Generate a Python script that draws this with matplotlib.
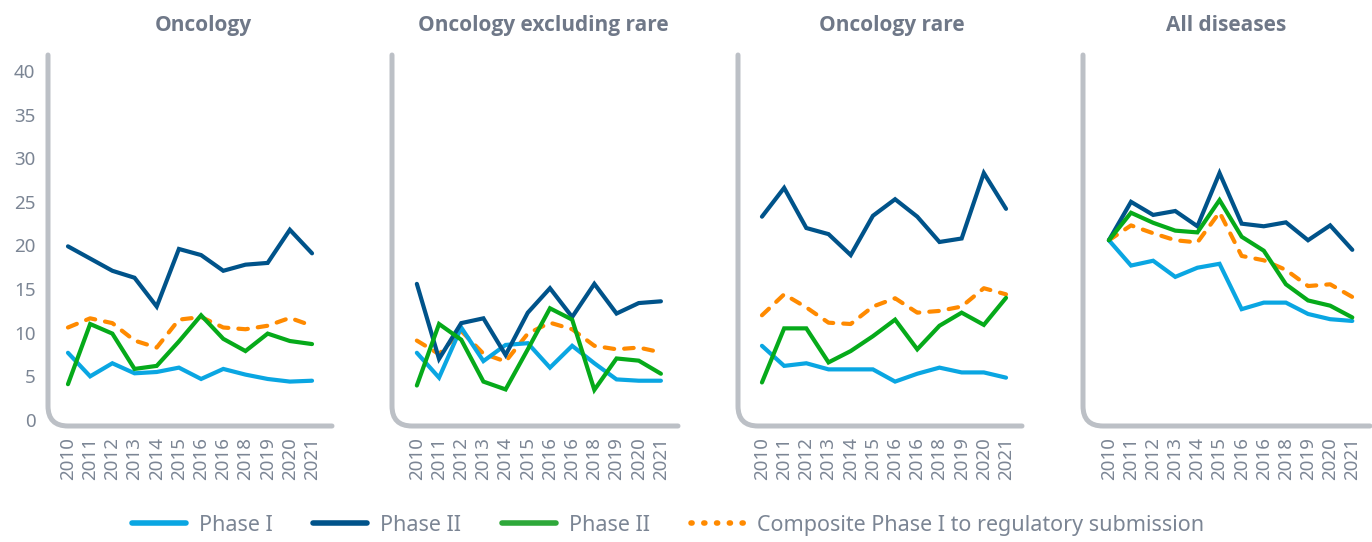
import matplotlib.pyplot as plt
from matplotlib.path import Path
from matplotlib.patches import PathPatch
from matplotlib.lines import Line2D

plt.rcParams["font.family"] = ["Noto Sans", "DejaVu Sans"]

# x tick labels as printed in the source (2016 appears twice)
year_labels = ["2010", "2011", "2012", "2013", "2014", "2015",
               "2016", "2016", "2018", "2019", "2020", "2021"]

panel_titles = ["Oncology", "Oncology excluding rare", "Oncology rare", "All diseases"]
series_names = ["Phase I", "Phase II", "Phase II", "Composite Phase I to regulatory submission"]

# values, one list per panel
phase1 = [
    [7.7, 5.0, 6.5, 5.35, 5.5, 6.0, 4.7, 5.85, 5.2, 4.7, 4.4, 4.5],
    [7.7, 4.85, 10.6, 6.75, 8.6, 8.8, 6.0, 8.5, 6.5, 4.65, 4.5, 4.5],
    [8.5, 6.2, 6.5, 5.8, 5.8, 5.8, 4.4, 5.3, 6.0, 5.45, 5.45, 4.85],
    [20.6, 17.7, 18.25, 16.4, 17.45, 17.9, 12.7, 13.45, 13.45, 12.15, 11.55, 11.35],
]
phase2 = [
    [19.9, 18.5, 17.1, 16.3, 13.0, 19.6, 18.9, 17.1, 17.8, 18.0, 21.8, 19.1],
    [15.6, 7.0, 11.1, 11.65, 7.45, 12.3, 15.1, 11.8, 15.6, 12.2, 13.4, 13.6],
    [23.3, 26.6, 22.0, 21.3, 18.9, 23.4, 25.3, 23.3, 20.4, 20.8, 28.3, 24.2],
    [20.6, 25.0, 23.5, 23.95, 22.2, 28.3, 22.5, 22.2, 22.65, 20.6, 22.3, 19.5],
]
phase2_green = [
    [4.1, 11.0, 9.9, 5.85, 6.2, 9.0, 12.0, 9.3, 7.9, 9.9, 9.05, 8.7],
    [3.95, 11.0, 9.2, 4.4, 3.5, 8.1, 12.8, 11.5, 3.45, 7.05, 6.8, 5.3],
    [4.3, 10.5, 10.5, 6.6, 7.9, 9.6, 11.5, 8.1, 10.8, 12.3, 10.9, 14.0],
    [20.6, 23.75, 22.6, 21.7, 21.5, 25.2, 21.0, 19.4, 15.55, 13.7, 13.1, 11.75],
]
composite = [
    [10.6, 11.65, 11.1, 9.1, 8.3, 11.5, 11.8, 10.6, 10.4, 10.8, 11.7, 10.8],
    [9.1, 7.55, 10.2, 7.6, 6.7, 9.9, 11.15, 10.4, 8.5, 8.1, 8.3, 7.75],
    [12.0, 14.4, 12.9, 11.15, 11.0, 13.0, 13.95, 12.3, 12.5, 13.0, 15.1, 14.4],
    [20.6, 22.3, 21.4, 20.6, 20.35, 23.8, 18.8, 18.3, 17.2, 15.35, 15.55, 14.1],
]

colors = ["#0aa6e2", "#00538a", "#06aa1a", "#ff8a00"]
grey_text = "#7b8594"
spine_col = "#bcc0c6"

fig = plt.figure(figsize=(13.72, 5.42), dpi=100)

# axes boxes in pixels: left, width (bottom/height shared)
boxes = [(48, 284), (392, 286), (738, 284), (1083, 287)]
xlims = [(-0.9, 11.9), (-1.12, 11.77), (-1.08, 11.72), (-1.17, 11.8)]
title_x = [0.546, 0.53, 0.54, 0.50]
W, H = 1372, 542
bottom_px, top_px = 426, 55

x = list(range(len(year_labels)))
for i in range(4):
    left, width = boxes[i]
    ax = fig.add_axes([left / W, (H - bottom_px) / H, width / W, (bottom_px - top_px) / H])
    all_series = [phase1[i], phase2[i], phase2_green[i], composite[i]]
    for j, vals in enumerate(all_series):
        if j == 3:
            ax.plot(x, vals, color=colors[j], lw=3, ls=(0, (2.3, 2.4)),
                    dash_capstyle="round", zorder=2)
        else:
            ax.plot(x, vals, color=colors[j], lw=3, solid_capstyle="round",
                    solid_joinstyle="miter", zorder=3)
    ax.set_xlim(*xlims[i])
    ax.set_ylim(-0.69, 41.83)
    ax.set_xticks(x)
    ax.set_xticklabels(year_labels, rotation=90, fontsize=13.5, color=grey_text)
    ax.tick_params(axis="x", length=0, pad=8)
    if i == 0:
        ax.set_yticks(range(0, 41, 5))
        ax.tick_params(axis="y", length=0, pad=9, labelsize=13.5, labelcolor=grey_text)
    else:
        ax.set_yticks([])
    for s in ax.spines.values():
        s.set_visible(False)
    ax.set_title(panel_titles[i], x=title_x[i], pad=17, fontsize=15,
                 fontweight="bold", color="#6f7888",
                 family=["Open Sans", "Noto Sans", "DejaVu Sans"])

    # rounded L-shaped axis line
    rx, ry = 20 / width, 20 / (bottom_px - top_px)
    verts = [(0, 1), (0, ry), (0, 0), (rx, 0), (1, 0)]
    codes = [Path.MOVETO, Path.LINETO, Path.CURVE3, Path.CURVE3, Path.LINETO]
    patch = PathPatch(Path(verts, codes), transform=ax.transAxes, fill=False,
                      edgecolor=spine_col, lw=3.6, capstyle="round", clip_on=False, zorder=1)
    ax.add_patch(patch)

# legend handles: solid bars and a dotted orange one, as in the source
handles = [Line2D([], [], color=colors[0], lw=4, solid_capstyle="round"),
           Line2D([], [], color=colors[1], lw=4, solid_capstyle="round"),
           Line2D([], [], color="#2ea83a", lw=4, solid_capstyle="round"),
           Line2D([], [], color=colors[3], lw=4, ls=(0, (0.2, 2.1)), dash_capstyle="round")]
leg = fig.legend(handles, series_names, loc="center", bbox_to_anchor=(0.487, 0.031), ncol=4,
                 frameon=False, fontsize=15.5, handlelength=2.5, handletextpad=0.6,
                 columnspacing=1.9)
for t in leg.get_texts():
    t.set_color(grey_text)

fig.savefig("out.png", dpi=100)
